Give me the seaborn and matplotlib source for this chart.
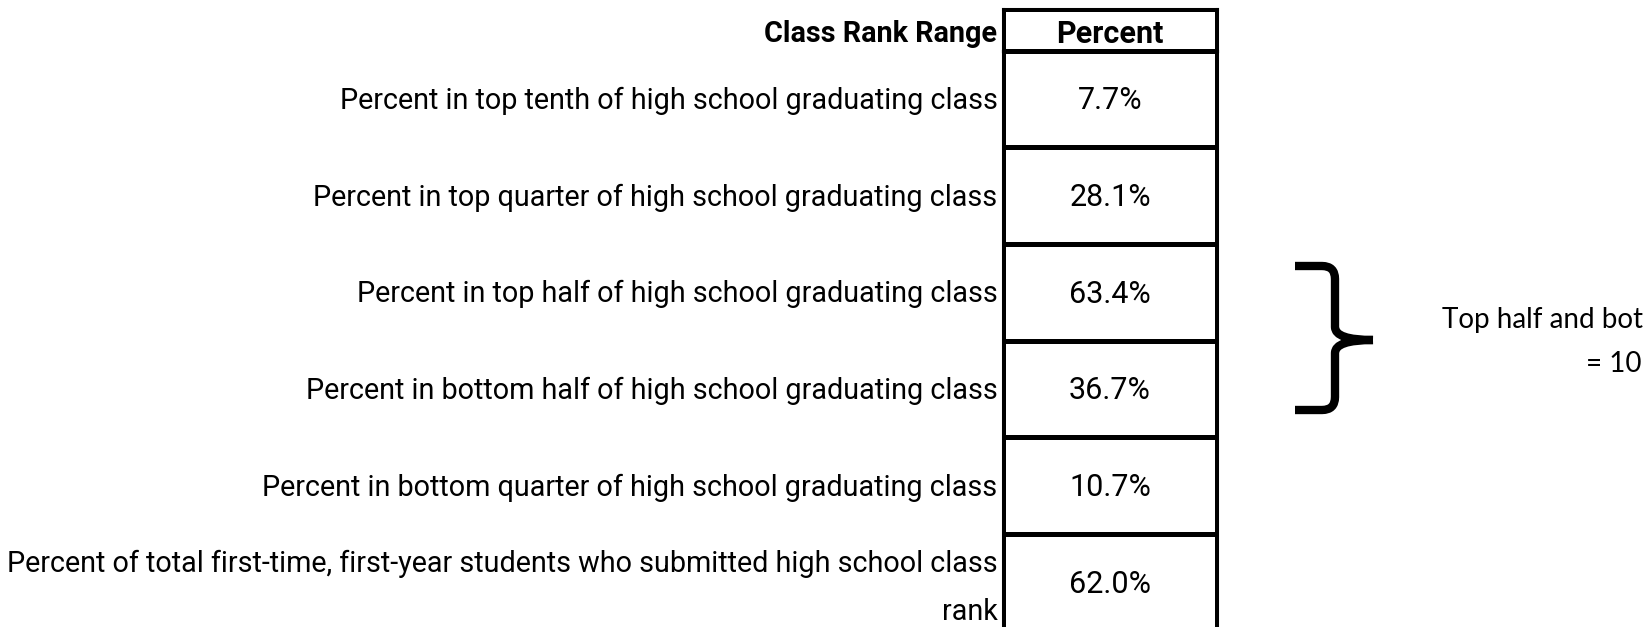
import numpy as np
import matplotlib
matplotlib.use("Agg")
import matplotlib.pyplot as plt
import seaborn as sns
from matplotlib.colors import ListedColormap
from matplotlib.path import Path
from matplotlib.patches import PathPatch

categories = [
    "Percent in top tenth of high school graduating class",
    "Percent in top quarter of high school graduating class",
    "Percent in top half of high school graduating class",
    "Percent in bottom half of high school graduating class",
    "Percent in bottom quarter of high school graduating class",
    "Percent of total first-time, first-year students who submitted high school class\nrank",
]
percent_values = [7.7, 28.1, 63.4, 36.7, 10.7, 62.0]
header_label = "Class Rank Range"
header_value = "Percent"
# note text as visible in the (cropped) reference
note_line1 = "Top half and bot"
note_line2 = "= 10"

sns.set_theme(style="white")
plt.rcParams['font.family'] = ['Roboto', 'DejaVu Sans']

W, H = 1651, 627
fig = plt.figure(figsize=(W / 100, H / 100), dpi=100)
fig.patch.set_facecolor('white')


def fax(x0, ytop, w, h):
    return fig.add_axes([x0 / W, (H - ytop - h) / H, w / W, h / H])


left, right = 1003, 1217
top_hdr, hdr_bot = 9, 50.5
row_h = 96.7
n = len(percent_values)
white = ListedColormap(['white'])
lw = 2.2
fs_lab = 20.7
fs_val = 22

# overlay for brace + note
oax = fig.add_axes([0, 0, 1, 1])
oax.set_xlim(0, W)
oax.set_ylim(H, 0)
oax.axis('off')

# header
hax = fax(left, top_hdr, right - left, hdr_bot - top_hdr)
sns.heatmap(np.zeros((1, 1)), ax=hax, cmap=white, cbar=False,
            annot=np.array([[header_value]]), fmt='',
            annot_kws=dict(fontsize=fs_val, fontweight='bold', color='black'),
            xticklabels=False, yticklabels=[header_label],
            linewidths=lw, linecolor='black')
hax.set_yticks([0.6])
hax.set_yticklabels([header_label])
for t in hax.texts:
    x, y = t.get_position()
    t.set_position((x, y + 0.1))

# body
bax = fax(left, hdr_bot, right - left, row_h * n)
annot_labels = np.array([[f"{v:.1f}%"] for v in percent_values])
sns.heatmap(np.array(percent_values).reshape(-1, 1), ax=bax, cmap=white, cbar=False,
            annot=annot_labels, fmt='',
            annot_kws=dict(fontsize=fs_val, color='black'),
            xticklabels=False, yticklabels=categories,
            linewidths=lw, linecolor='black')
tick_pos = np.arange(n) + 0.52
tick_pos[-1] = n - 1 + 0.56
bax.set_yticks(tick_pos)
bax.set_yticklabels(categories)
for t in bax.texts:
    x, y = t.get_position()
    t.set_position((x, y + 0.02))

for ax, bold in ((hax, True), (bax, False)):
    ax.tick_params(axis='y', length=0, pad=4)
    for t in ax.get_yticklabels():
        t.set_rotation(0)
        t.set_ha('right')
        t.set_fontsize(fs_lab)
        t.set_color('black')
        t.set_linespacing(1.92)
        if bold:
            t.set_fontweight('bold')
    for s in ax.spines.values():
        s.set_visible(True)
        s.set_linewidth(lw)
        s.set_color('black')

# brace
verts = [(1295, 266), (1322, 266), (1335, 266), (1335, 279), (1335, 327),
         (1335, 340), (1373, 340),
         (1373, 340), (1335, 340), (1335, 353), (1335, 397),
         (1335, 410), (1322, 410), (1295, 410)]
codes = [Path.MOVETO, Path.LINETO, Path.CURVE3, Path.CURVE3, Path.LINETO,
         Path.CURVE3, Path.CURVE3,
         Path.MOVETO, Path.CURVE3, Path.CURVE3, Path.LINETO,
         Path.CURVE3, Path.CURVE3, Path.LINETO]
oax.add_patch(PathPatch(Path(verts, codes), facecolor='none', edgecolor='black',
                        linewidth=6.0, capstyle='butt', joinstyle='round'))

oax.text(1442, 320, note_line1, ha='left', va='center', fontsize=20,
         family=['Lato', 'DejaVu Sans'], color='black')
oax.text(1642, 364, note_line2, ha='right', va='center', fontsize=20,
         family=['Lato', 'DejaVu Sans'], color='black')

fig.savefig('out.png', dpi=100, facecolor='white')
